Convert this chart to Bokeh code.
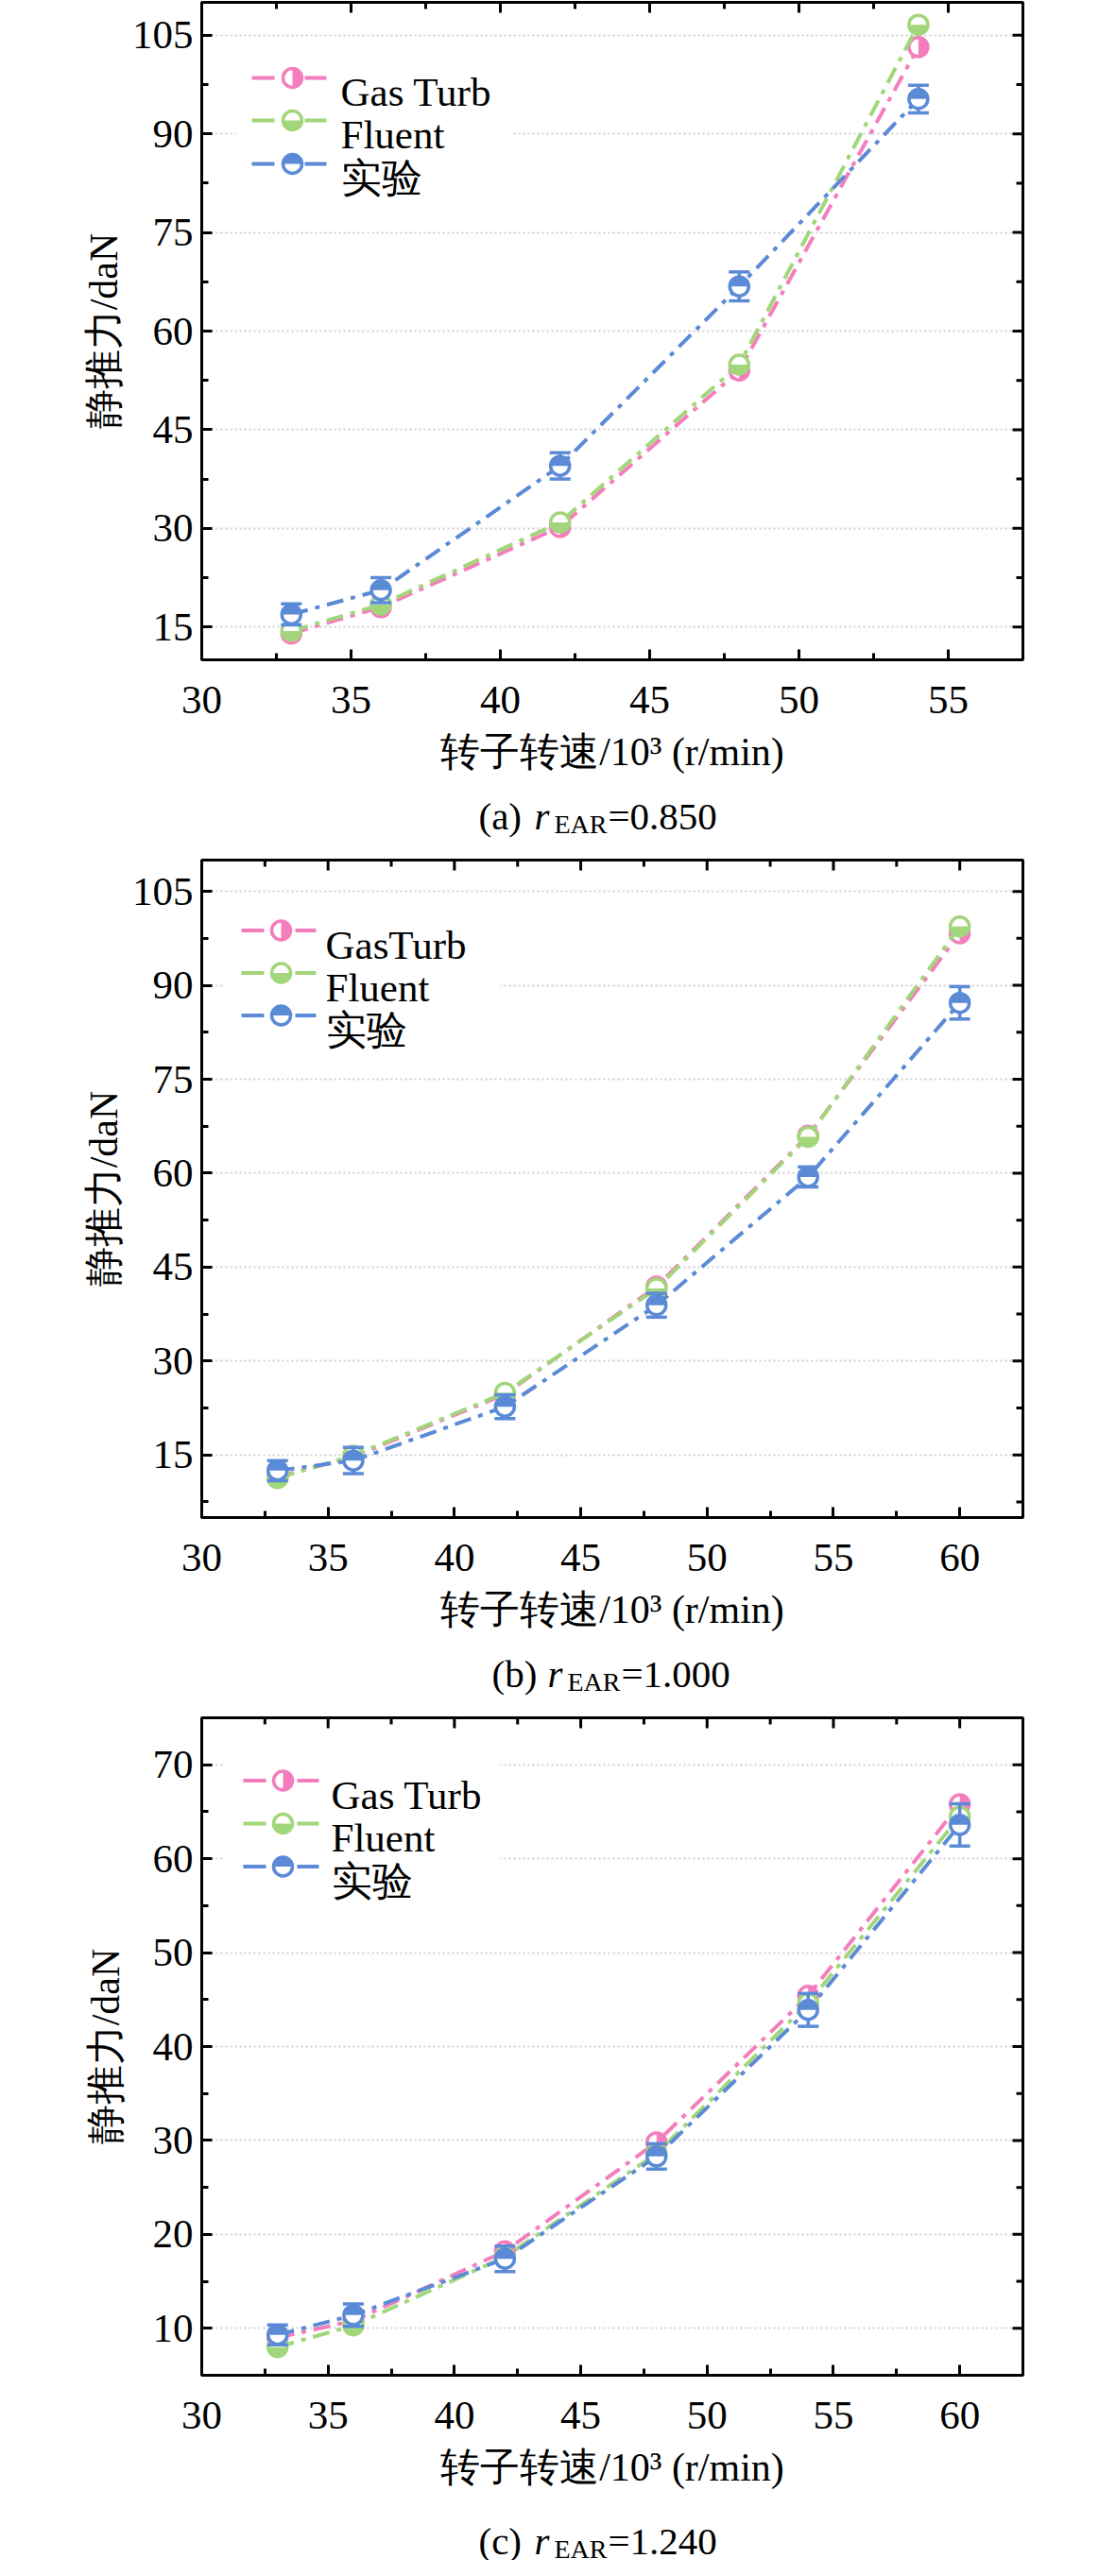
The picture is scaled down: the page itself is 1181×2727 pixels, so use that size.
import math
from bokeh.plotting import figure
from bokeh.models import Range1d, FixedTicker
from bokeh.layouts import column
from bokeh.embed import file_html
from bokeh.resources import INLINE
from bokeh.core.properties import value

# ---------------- data ----------------
speed_a = [33, 36, 42, 48, 54]
gasturb_a = [14.0, 18.0, 30.2, 54.0, 103.2]
fluent_a = [14.4, 18.4, 30.9, 54.9, 106.6]
exp_a = [16.9, 20.6, 39.5, 66.8, 95.3]
exp_err_a = [1.6, 1.9, 2.0, 2.2, 2.1]

speed_b = [33, 36, 42, 48, 54, 60]
gasturb_b = [11.5, 14.7, 24.7, 41.9, 66.0, 98.3]
fluent_b = [11.3, 14.9, 24.9, 41.6, 65.8, 99.4]
exp_b = [12.5, 14.1, 22.7, 38.9, 59.4, 87.2]
exp_err_b = [1.6, 2.1, 1.9, 1.9, 1.6, 2.6]

speed_c = [33, 36, 42, 48, 54, 60]
gasturb_c = [9.0, 10.8, 18.2, 29.8, 45.4, 65.8]
fluent_c = [8.0, 10.3, 17.6, 28.6, 44.6, 64.5]
exp_c = [9.3, 11.4, 17.4, 28.3, 43.9, 63.6]
exp_err_c = [1.05, 1.2, 1.35, 1.35, 1.75, 2.25]

xticks_a = [30, 35, 40, 45, 50, 55]
xminor_a = [32.5, 37.5, 42.5, 47.5, 52.5]
xticks_bc = [30, 35, 40, 45, 50, 55, 60]
xminor_bc = [32.5, 37.5, 42.5, 47.5, 52.5, 57.5]
yticks_ab = [15, 30, 45, 60, 75, 90, 105]
yminor_a = [22.5, 37.5, 52.5, 67.5, 82.5, 97.5]
yminor_b = [7.5, 22.5, 37.5, 52.5, 67.5, 82.5, 97.5]
yticks_c = [10, 20, 30, 40, 50, 60, 70]
yminor_c = [15, 25, 35, 45, 55, 65]

legend_a = ["Gas Turb", "Fluent", "实验"]
legend_b = ["GasTurb", "Fluent", "实验"]
legend_c = ["Gas Turb", "Fluent", "实验"]

x_label = "转子转速/10³ (r/min)"
y_label = "静推力/daN"
captions = [("(a) ", "0.850"), ("(b) ", "1.000"), ("(c) ", "1.240")]

# ---------------- style ----------------
PINK = "#F47EBD"
GREEN = "#A2D67A"
BLUE = "#5B8AD6"
FONT = "Liberation Serif"
FRAME_W, FRAME_H = 869, 696
LEFT, RIGHT, TOP, BOTTOM = 213, 60, 2, 138
DASH = "18 8 5 8"
MAJ, MIN = 11, 7

HALF = {  # start, end angles of the filled half
    PINK: (-math.pi / 2, math.pi / 2),
    GREEN: (math.pi, 2 * math.pi),
    BLUE: (0, math.pi),
}


def style_axis(ax, standoff, label_standoff):
    ax.axis_line_width = 3
    ax.axis_line_color = "black"
    ax.major_tick_line_width = 3
    ax.minor_tick_line_width = 3
    ax.major_tick_in = MAJ
    ax.major_tick_out = 0
    ax.minor_tick_in = MIN
    ax.minor_tick_out = 0
    ax.major_label_text_font = FONT
    ax.major_label_text_color = "black"
    ax.major_label_text_font_size = "43px"
    ax.major_label_standoff = standoff
    ax.axis_label_text_font = FONT
    ax.axis_label_text_font_style = "normal"
    ax.axis_label_text_font_size = "42px"
    ax.axis_label_text_color = "black"
    ax.axis_label_standoff = label_standoff


def marker(p, xs, ys, color):
    p.scatter(xs, ys, marker="circle", size=20, fill_color="white",
              line_color=color, line_width=3.5)
    a0, a1 = HALF[color]
    p.wedge(x=xs, y=ys, radius=10.5, radius_units="screen", start_angle=a0,
            end_angle=a1, fill_color=color, line_color=None)


def panel(xs, gas, flu, exp, err, xr, yr, xt, xm, yt, ym, labels, leg, ylab_standoff):
    p = figure(frame_width=FRAME_W, frame_height=FRAME_H,
               x_range=Range1d(*xr), y_range=Range1d(*yr),
               min_border_left=LEFT, min_border_right=RIGHT,
               min_border_top=TOP, min_border_bottom=BOTTOM,
               toolbar_location=None, output_backend="svg",
               x_axis_label=x_label, y_axis_label=y_label,
               background_fill_color="white", border_fill_color="white")
    p.outline_line_color = "black"
    p.outline_line_width = 3
    p.outline_line_alpha = 1
    p.xaxis.ticker = FixedTicker(ticks=xt, minor_ticks=xm)
    p.yaxis.ticker = FixedTicker(ticks=yt, minor_ticks=ym)
    style_axis(p.xaxis[0], 28, 15)
    style_axis(p.yaxis[0], 9, ylab_standoff)

    p.xgrid.visible = False
    p.ygrid.ticker = FixedTicker(ticks=yt)
    p.ygrid.grid_line_color = "#cfcfcf"
    p.ygrid.grid_line_width = 2
    p.ygrid.grid_line_dash = "2 3"

    sx = (xr[1] - xr[0]) / FRAME_W
    sy = (yr[1] - yr[0]) / FRAME_H

    # ticks on the top and right edges of the frame
    for ticks, ln in [(xt, MAJ), (xm, MIN)]:
        p.segment(x0=ticks, y0=[yr[1]] * len(ticks), x1=ticks,
                  y1=[yr[1] - ln * sy] * len(ticks), line_color="black", line_width=3)
    for ticks, ln in [(yt, MAJ), (ym, MIN)]:
        p.segment(x0=[xr[1]] * len(ticks), y0=ticks, x1=[xr[1] - ln * sx] * len(ticks),
                  y1=ticks, line_color="black", line_width=3)

    def fx(off):
        return xr[0] + off * sx

    def fy(off):
        return yr[1] - off * sy

    # legend background
    bx0, bx1, by0, by1 = leg["box"]
    p.quad(left=fx(bx0), right=fx(bx1), top=fy(by0), bottom=fy(by1),
           fill_color="white", line_color=None)

    # series
    for vals, color in [(gas, PINK), (flu, GREEN)]:
        p.line(xs, vals, line_color=color, line_width=4, line_dash=DASH)
        marker(p, xs, vals, color)
    p.line(xs, exp, line_color=BLUE, line_width=4, line_dash=DASH)
    lo = [v - e for v, e in zip(exp, err)]
    hi = [v + e for v, e in zip(exp, err)]
    p.segment(x0=xs, y0=lo, x1=xs, y1=hi, line_color=BLUE, line_width=3.5)
    p.scatter(xs, lo, marker="dash", size=22, line_color=BLUE, line_width=3.5)
    p.scatter(xs, hi, marker="dash", size=22, line_color=BLUE, line_width=3.5)
    marker(p, xs, exp, BLUE)

    # legend
    l0, l1, mx, r0, r1, tx = leg["x"]
    for lab, color, row in zip(labels, [PINK, GREEN, BLUE], leg["rows"]):
        p.segment(x0=[fx(l0), fx(r0)], y0=[fy(row)] * 2, x1=[fx(l1), fx(r1)],
                  y1=[fy(row)] * 2, line_color=color, line_width=4)
        marker(p, [fx(mx)], [fy(row)], color)
        p.text(x=[fx(tx)], y=[fy(row + 15)], text=[lab],
               text_font=value(FONT), text_font_size=value("43px"),
               text_color="black", text_baseline="alphabetic", text_align="left")
    return p


def caption(prefix, val, H, x0, shift):
    # x data units = pixels from the frame's left edge, y = pixels from the bottom
    extra = {"styles": {"margin-top": f"-{shift}px"}} if shift else {}
    c = figure(frame_width=FRAME_W, frame_height=H,
               x_range=Range1d(0, FRAME_W), y_range=Range1d(0, H),
               min_border_left=LEFT, min_border_right=RIGHT,
               min_border_top=0, min_border_bottom=0,
               toolbar_location=None, output_backend="svg",
               x_axis_location=None, y_axis_location=None,
               outline_line_color=None,
               background_fill_alpha=0, border_fill_alpha=0, **extra)
    c.grid.visible = False
    base = H - 37
    common = dict(text_font=value(FONT), text_color="black",
                  text_baseline="alphabetic", text_align="left")
    c.text(x=[x0], y=[base], text=[prefix], text_font_size=value("41px"), **common)
    c.text(x=[x0 + 59], y=[base], text=["r"], text_font_size=value("41px"),
           text_font_style="italic", **common)
    c.text(x=[x0 + 80], y=[base - 9], text=["EAR"], text_font_size=value("28px"), **common)
    c.text(x=[x0 + 137], y=[base], text=["=" + val], text_font_size=value("41px"), **common)
    return c


leg_a = dict(box=(36, 328, 45, 205), x=(53, 77, 96, 109, 132, 147), rows=(80, 125, 171))
leg_b = dict(box=(25, 316, 40, 200), x=(42, 66, 84, 99, 121, 131), rows=(74.5, 119.5, 164.5))
leg_c = dict(box=(25, 316, 35, 190), x=(44, 68, 86, 101, 124, 137), rows=(66.5, 112, 157.5))

pa = panel(speed_a, gasturb_a, fluent_a, exp_a, exp_err_a, (30, 57.5), (10, 110),
           xticks_a, xminor_a, yticks_ab, yminor_a, legend_a, leg_a, 4)
pb = panel(speed_b, gasturb_b, fluent_b, exp_b, exp_err_b, (30, 62.5), (5, 110),
           xticks_bc, xminor_bc, yticks_ab, yminor_b, legend_b, leg_b, 4)
pc = panel(speed_c, gasturb_c, fluent_c, exp_c, exp_err_c, (30, 62.5), (5, 75),
           xticks_bc, xminor_bc, yticks_c, yminor_c, legend_c, leg_c, 24)

ca = caption(captions[0][0], captions[0][1], 82, 293, 10)
cb = caption(captions[1][0], captions[1][1], 82, 307, 10)
cc = caption(captions[2][0], captions[2][1], 58, 293, 0)

layout = column(pa, ca, pb, cb, pc, cc, spacing=0)
open("out.html", "w").write(file_html(layout, INLINE))
